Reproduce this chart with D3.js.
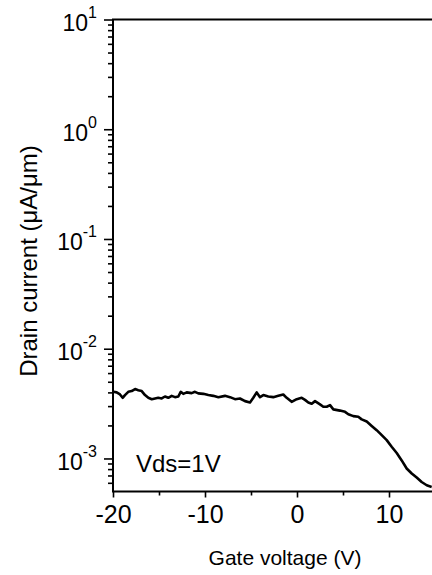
<!DOCTYPE html>
<html>
<head>
<meta charset="utf-8">
<script src="https://cdn.jsdelivr.net/npm/d3@7"></script>
<style>
  body { margin: 0; background: #fff; }
  svg { display: block; font-family: "Liberation Sans", Arial, sans-serif; }
</style>
</head>
<body>
<svg class="chart"></svg>
<script>
// Total dimensions
var w = 432,
    h = 575;

// Transfer curve (gate voltage in V, drain current in uA/um)
var gateV = [
  -19.96, -19.6, -19.24, -18.95, -18.7, -18.34, -17.97, -17.6, -17.25, -16.88,
  -16.52, -16.16, -15.79, -15.43, -15.08, -14.71, -14.35, -13.99, -13.62, -13.26,
  -12.9, -12.64, -12.36, -11.99, -11.45, -11.09, -10.73, -10.18, -9.64, -9.1,
  -8.55, -7.83, -7.28, -6.74, -6.2, -5.65, -5.11, -4.75, -4.38, -4.02,
  -3.66, -3.12, -2.58, -2.03, -1.49, -1.12, -0.58, -0.03, 0.51, 0.87,
  1.23, 1.6, 1.96, 2.5, 2.86, 3.23, 3.59, 3.95, 4.67, 5.22,
  5.58, 6.12, 6.66, 7.03, 7.58, 8.12, 8.66, 9.21, 9.75, 10.29,
  10.84, 11.38, 11.92, 12.47, 13.01, 13.55, 14.1, 14.64
];
var drainI = [
  4.05e-3, 4.0e-3, 3.83e-3, 3.57e-3, 3.78e-3, 4.05e-3, 4.11e-3, 4.29e-3, 4.19e-3, 4.11e-3,
  3.78e-3, 3.57e-3, 3.47e-3, 3.52e-3, 3.57e-3, 3.52e-3, 3.67e-3, 3.57e-3, 3.72e-3, 3.62e-3,
  3.67e-3, 4.05e-3, 3.88e-3, 4.0e-3, 3.94e-3, 4.05e-3, 3.92e-3, 3.88e-3, 3.78e-3, 3.72e-3,
  3.62e-3, 3.72e-3, 3.62e-3, 3.47e-3, 3.52e-3, 3.33e-3, 3.24e-3, 3.57e-3, 4.0e-3, 3.62e-3,
  3.78e-3, 3.67e-3, 3.62e-3, 3.72e-3, 3.83e-3, 3.57e-3, 3.28e-3, 3.47e-3, 3.57e-3, 3.42e-3,
  3.24e-3, 3.15e-3, 3.33e-3, 3.11e-3, 2.96e-3, 2.96e-3, 3.06e-3, 2.8e-3, 2.73e-3, 2.66e-3,
  2.53e-3, 2.43e-3, 2.4e-3, 2.27e-3, 2.17e-3, 1.98e-3, 1.81e-3, 1.63e-3, 1.47e-3, 1.28e-3,
  1.12e-3, 9.6e-4, 8.1e-4, 7.3e-4, 6.7e-4, 6.1e-4, 5.7e-4, 5.5e-4
];

// Tick values
var xMajor = [-20, -10, 0, 10];
var xMinor = [-15, -5, 5, 15];
var yExp = [-3, -2, -1, 0, 1];

var data = gateV.map(function(v, i) { return { v: v, i: drainI[i] }; });

var svg = d3.select(".chart")
    .attr("width", w)
    .attr("height", h);

// plot box (right edge falls just outside the window, as in the original)
var box = { left: 113, right: 435, top: 19.5, bottom: 491.5 };

var xScale = d3.scaleLinear()
    .domain([-20, 15])
    .range([box.left, box.right]);

var yScale = d3.scaleLog()
    .domain([5e-4, 10])
    .range([box.bottom, box.top]);

// minor log ticks 2..9 for each decade
var yMinor = [];
yExp.forEach(function(e) {
    for (var k = 2; k <= 9; k++) {
        var v = k * Math.pow(10, e - 1);
        if (v > 5e-4 && v < 10) yMinor.push(v);
    }
});

// curve
var line = d3.line()
    .x(function(d) { return xScale(d.v); })
    .y(function(d) { return yScale(d.i); });

svg.append("path")
    .datum(data)
    .attr("fill", "none")
    .attr("stroke", "#000")
    .attr("stroke-width", 2.6)
    .attr("stroke-linejoin", "round")
    .attr("d", line);

// frame
svg.append("rect")
    .attr("x", box.left)
    .attr("y", box.top)
    .attr("width", box.right - box.left)
    .attr("height", box.bottom - box.top)
    .attr("fill", "none")
    .attr("stroke", "#000")
    .attr("stroke-width", 2);

// x axis
var xAxis = svg.append("g")
    .attr("transform", "translate(0," + box.bottom + ")")
    .call(d3.axisBottom(xScale).tickValues(xMajor).tickSize(6).tickPadding(8)
        .tickFormat(function(d) { return String(d); }));
svg.append("g")
    .attr("transform", "translate(0," + box.bottom + ")")
    .call(d3.axisBottom(xScale).tickValues(xMinor).tickSize(4).tickFormat(""));

// y axis
var yAxis = svg.append("g")
    .attr("transform", "translate(" + box.left + ",0)")
    .call(d3.axisLeft(yScale).tickValues(yExp.map(function(e) { return Math.pow(10, e); }))
        .tickSize(9).tickPadding(6).tickFormat(""));
svg.append("g")
    .attr("transform", "translate(" + box.left + ",0)")
    .call(d3.axisLeft(yScale).tickValues(yMinor).tickSize(5).tickFormat(""));

svg.selectAll(".domain").remove();
svg.selectAll(".tick line").attr("stroke", "#000").attr("stroke-width", 1.6);

xAxis.selectAll("text")
    .attr("fill", "#000")
    .attr("font-size", 25)
    .attr("font-family", "Liberation Sans, Arial, sans-serif")
    .attr("dy", "0.71em");

// y tick labels as 10 with superscript exponent
yAxis.selectAll(".tick").each(function(d) {
    var t = d3.select(this).select("text")
        .attr("fill", "#000")
        .attr("font-family", "Liberation Sans, Arial, sans-serif")
        .attr("font-size", 23)
        .attr("x", -16)
        .attr("dy", 11)
        .attr("text-anchor", "end");
    t.text("10");
    t.append("tspan")
        .attr("font-size", 16)
        .attr("dy", -13)
        .text(Math.round(Math.log10(d)));
});

// axis titles
svg.append("text")
    .attr("transform", "translate(37,261) rotate(-90)")
    .attr("text-anchor", "middle")
    .attr("font-size", 24)
    .text("Drain current (\u03bcA/\u03bcm)");

svg.append("text")
    .attr("x", 285)
    .attr("y", 565)
    .attr("text-anchor", "middle")
    .attr("font-size", 21)
    .text("Gate voltage (V)");

// annotation
svg.append("text")
    .attr("x", 136)
    .attr("y", 471.5)
    .attr("font-size", 24)
    .text("Vds=1V");
</script>
</body>
</html>
